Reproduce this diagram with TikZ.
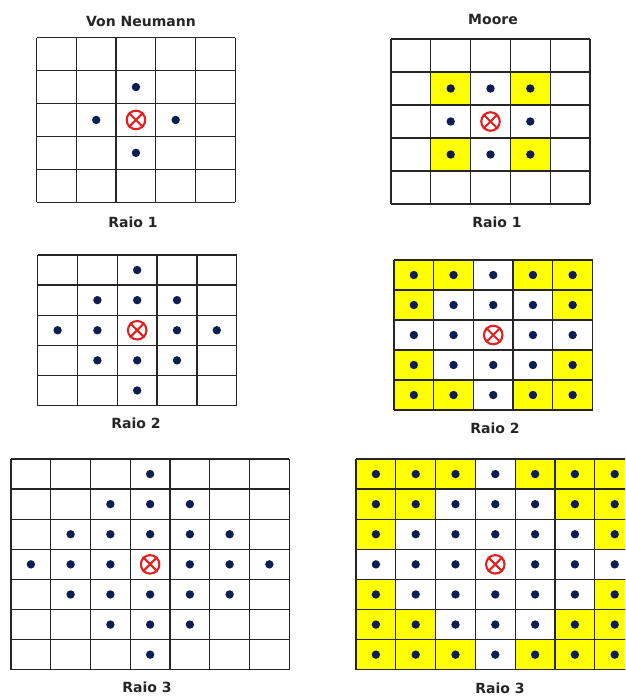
\documentclass[tikz,border=0pt]{standalone}
\usepackage{fontspec}
\setmainfont{DejaVu Sans}
\usepackage{tikz}
\usetikzlibrary{positioning}
\usepackage{xcolor}

\definecolor{dotblue}{RGB}{14,30,82}
\definecolor{markred}{RGB}{226,32,32}
\definecolor{cellyellow}{RGB}{255,255,0}

\begin{document}
\begin{tikzpicture}[
    x=1pt, y=-1pt,
    gridline/.style={draw=black!85, line width=1.3pt},
    farcell/.style={fill=cellyellow},
    nbdot/.style={fill=dotblue},
    centremark/.style={draw=markred, line width=2.1pt, circle, minimum size=18.5pt, inner sep=0pt},
    heading/.style={font=\bfseries\fontsize{14}{16}\selectfont, text=black!85},
    caption/.style={font=\bfseries\fontsize{14}{16}\selectfont, text=black!85},
]
\useasboundingbox[fill=white] (0,0) rectangle (625,698);
\clip (0,0) rectangle (625,698);

\node[heading] (vntitle) at (141,21) {Von Neumann};
\node[heading] (mooretitle) at (493,19) {Moore};

% left/top/cell width/cell height/radius/cells/moore?/caption x/caption y/name
\foreach \px/\py/\cw/\ch/\rad/\ncell/\moore/\lx/\ly/\nm in {
    36.7/37.7/39.7/32.9/1/5/0/133/222/vnone,
    391/39/39.8/33/1/5/1/497/222/mooreone,
    37.7/255/39.8/30.1/2/5/0/136/423/vntwo,
    394/260/39.7/30/2/5/1/495/428/mooretwo,
    11/459/39.75/30.1/3/7/0/147/687/vnthree,
    356/459/39.8/30.1/3/7/1/500/688/moorethree}{
  \pgfmathtruncatemacro{\cc}{(\ncell-1)/2}
  \pgfmathtruncatemacro{\lastk}{\ncell-1}
  % yellow cells outside the von Neumann diamond
  \foreach \col in {0,...,\lastk}{
    \foreach \row in {0,...,\lastk}{
      \pgfmathtruncatemacro{\dist}{abs(\col-\cc)+abs(\row-\cc)}
      \pgfmathtruncatemacro{\cheb}{max(abs(\col-\cc),abs(\row-\cc))}
      \ifnum\moore=1\relax
        \ifnum\cheb>\rad\relax\else
          \ifnum\dist>\rad\relax
            \fill[farcell] (\px+\col*\cw,\py+\row*\ch) rectangle ++(\cw,\ch);
          \fi
        \fi
      \fi
    }
  }
  % grid
  \foreach \k in {0,...,\ncell}{
    \draw[gridline] (\px+\k*\cw,\py) -- ++(0,\ncell*\ch);
    \draw[gridline] (\px,\py+\k*\ch) -- ++(\ncell*\cw,0);
  }
  % neighbours
  \foreach \col in {0,...,\lastk}{
    \foreach \row in {0,...,\lastk}{
      \pgfmathtruncatemacro{\dist}{abs(\col-\cc)+abs(\row-\cc)}
      \pgfmathtruncatemacro{\cheb}{max(abs(\col-\cc),abs(\row-\cc))}
      \ifnum\moore=1\relax
        \pgfmathtruncatemacro{\reach}{\cheb}
      \else
        \pgfmathtruncatemacro{\reach}{\dist}
      \fi
      \ifnum\dist>0\relax
        \ifnum\reach>\rad\relax\else
          \fill[nbdot] (\px+\col*\cw+0.5*\cw,\py+\row*\ch+0.5*\ch) circle[radius=4.2pt];
        \fi
      \fi
    }
  }
  % centre cell
  \node[centremark] (ctr\nm) at (\px+\cc*\cw+0.5*\cw,\py+\cc*\ch+0.5*\ch) {};
  \draw[markred, line width=2.1pt] (ctr\nm.135) -- (ctr\nm.-45) (ctr\nm.45) -- (ctr\nm.-135);
  \node[caption] (cap\nm) at (\lx,\ly) {Raio \rad};
}
\end{tikzpicture}
\end{document}
